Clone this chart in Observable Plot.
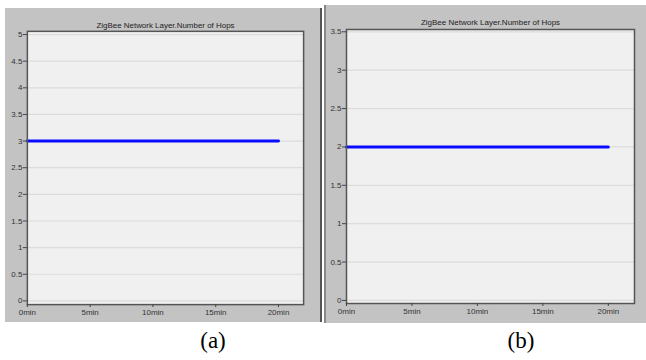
<!DOCTYPE html>
<html>
<head>
<meta charset="utf-8">
<script src="https://cdn.jsdelivr.net/npm/d3@7"></script>
<script src="https://cdn.jsdelivr.net/npm/@observablehq/plot@0.6"></script>
<style>
  html, body { margin: 0; padding: 0; background: #ffffff; width: 646px; height: 360px; overflow: hidden; }
  .panel { position: absolute; background: #c3c3c3; box-sizing: border-box; }
  .panel svg { display: block; }
  .cap { position: absolute; font-family: "Liberation Serif", "Times New Roman", serif; font-size: 23px; color: #000; transform: translateX(-50%); }
</style>
</head>
<body>
<div id="pa" class="panel" style="left:5px; top:8px; width:317px; height:314px; border-right:2px solid #555;"></div>
<div id="pb" class="panel" style="left:324px; top:5px; width:322px; height:318px; border-left:2px solid #888;"></div>
<div class="cap" style="left:213px; top:328px;">(a)</div>
<div class="cap" style="left:521px; top:328px;">(b)</div>
<script>
const chartTitle = "ZigBee Network Layer.Number of Hops";
const timeMinutes = [0, 20];
const hopsA = [3, 3];
const hopsB = [2, 2];
const xTicks = [0, 5, 10, 15, 20];
const yTicksA = [0, 0.5, 1, 1.5, 2, 2.5, 3, 3.5, 4, 4.5, 5];
const yTicksB = [0, 0.5, 1, 1.5, 2, 2.5, 3, 3.5];

function makeChart(values, yTicks, yDomain, opts) {
  const data = timeMinutes.map((t, i) => ({t, v: values[i]}));
  return Plot.plot({
    width: opts.width,
    height: opts.height,
    marginLeft: opts.ml,
    marginRight: opts.mr,
    marginTop: opts.mt,
    marginBottom: opts.mb,
    style: {background: "transparent", fontFamily: "'Liberation Sans', Arial, sans-serif", fontSize: "8px", color: "#333"},
    x: {domain: [0, 22], axis: null, label: null},
    y: {domain: yDomain, axis: null, label: null},
    marks: [
      Plot.frame({fill: "#f0f0f0", stroke: null}),
      Plot.gridY(yTicks, {stroke: "#dcdcdc", strokeOpacity: 1, strokeWidth: 1.2}),
      Plot.line(data, {x: "t", y: "v", stroke: "#0a0aff", strokeWidth: 3}),
      Plot.frame({stroke: "#555", strokeWidth: 1.5}),
      Plot.axisY(yTicks, {anchor: "left", label: null, tickSize: 4, tickPadding: 1, stroke: "#444", fill: "#333", fontSize: 8, tickFormat: d => String(d)}),
      Plot.axisX(xTicks, {anchor: "bottom", label: null, tickSize: 3, tickPadding: 2, stroke: "#444", fill: "#333", fontSize: 8, tickFormat: d => d + "min"}),
      Plot.text([chartTitle], {text: d => d, frameAnchor: "top", dy: opts.titleDy, fontSize: 8, fill: "#222"})
    ]
  });
}

document.getElementById("pa").append(makeChart(hopsA, yTicksA, [-0.07, 5.06],
  {width: 317, height: 314, ml: 22, mr: 17, mt: 23, mb: 16, titleDy: -9}));
document.getElementById("pb").append(makeChart(hopsB, yTicksB, [-0.04, 3.53],
  {width: 320, height: 318, ml: 20, mr: 12, mt: 24, mb: 20, titleDy: -10}));
</script>
</body>
</html>
